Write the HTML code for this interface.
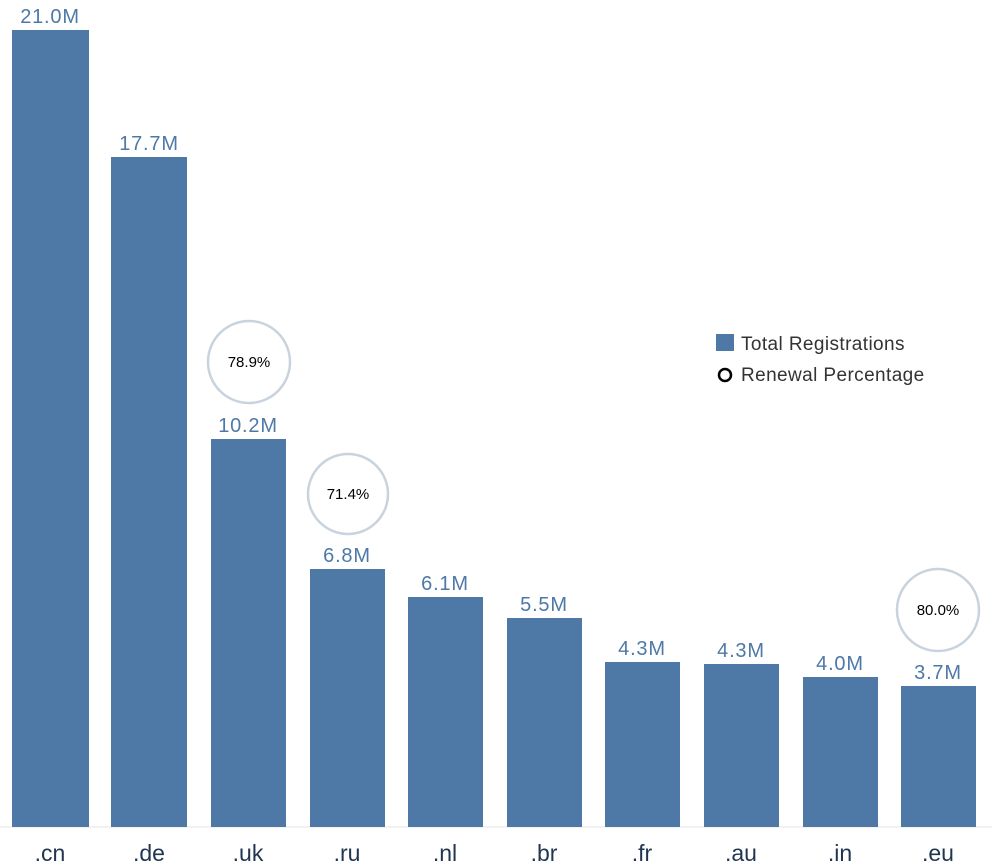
<!DOCTYPE html><html><head><style>body{margin:0;background:#fff}svg{display:block}</style></head><body>
<svg width="992" height="866" xmlns="http://www.w3.org/2000/svg" font-family="Liberation Sans, sans-serif">
<line x1="0" y1="827" x2="992" y2="827" stroke="#e6e6e6" stroke-width="1"/>
<g fill="#4e79a7">
<rect x="12" y="30" width="77" height="797"/>
<rect x="111" y="157" width="76" height="670"/>
<rect x="211" y="439" width="75" height="388"/>
<rect x="310" y="569" width="75" height="258"/>
<rect x="408" y="597" width="75" height="230"/>
<rect x="507" y="618" width="75" height="209"/>
<rect x="605" y="662" width="75" height="165"/>
<rect x="704" y="664" width="75" height="163"/>
<rect x="803" y="677" width="75" height="150"/>
<rect x="901" y="686" width="75" height="141"/>
</g>
<g fill="#4e79a7" font-size="20" letter-spacing="0.8" text-anchor="middle">
<text x="50" y="23">21.0M</text><text x="149" y="150">17.7M</text><text x="248" y="432">10.2M</text>
<text x="347" y="562">6.8M</text><text x="445" y="590">6.1M</text><text x="544" y="611">5.5M</text>
<text x="642" y="655">4.3M</text><text x="741" y="657">4.3M</text><text x="840" y="670">4.0M</text><text x="938" y="679">3.7M</text>
</g>
<g fill="#1f3550" font-size="23" text-anchor="middle">
<text x="50" y="861">.cn</text><text x="149" y="861">.de</text><text x="248" y="861">.uk</text><text x="347" y="861">.ru</text>
<text x="445" y="861">.nl</text><text x="544" y="861">.br</text><text x="642" y="861">.fr</text><text x="741" y="861">.au</text>
<text x="840" y="861">.in</text><text x="938" y="861">.eu</text>
</g>
<g fill="none" stroke="#c9d3dd" stroke-width="2.5">
<circle cx="249" cy="362" r="41"/><circle cx="348" cy="494" r="40"/><circle cx="938" cy="610" r="41"/>
</g>
<g font-size="15" text-anchor="middle" fill="#000">
<text x="249" y="367">78.9%</text><text x="348" y="499">71.4%</text><text x="938" y="615">80.0%</text>
</g>
<rect x="716" y="334" width="18" height="17" fill="#4e79a7"/>
<text x="741" y="350" font-size="19" letter-spacing="0.4" fill="#333">Total Registrations</text>
<circle cx="725" cy="375" r="6" fill="none" stroke="#000" stroke-width="2.5"/>
<text x="741" y="381" font-size="19" letter-spacing="0.4" fill="#333">Renewal Percentage</text>
</svg>
</body></html>
